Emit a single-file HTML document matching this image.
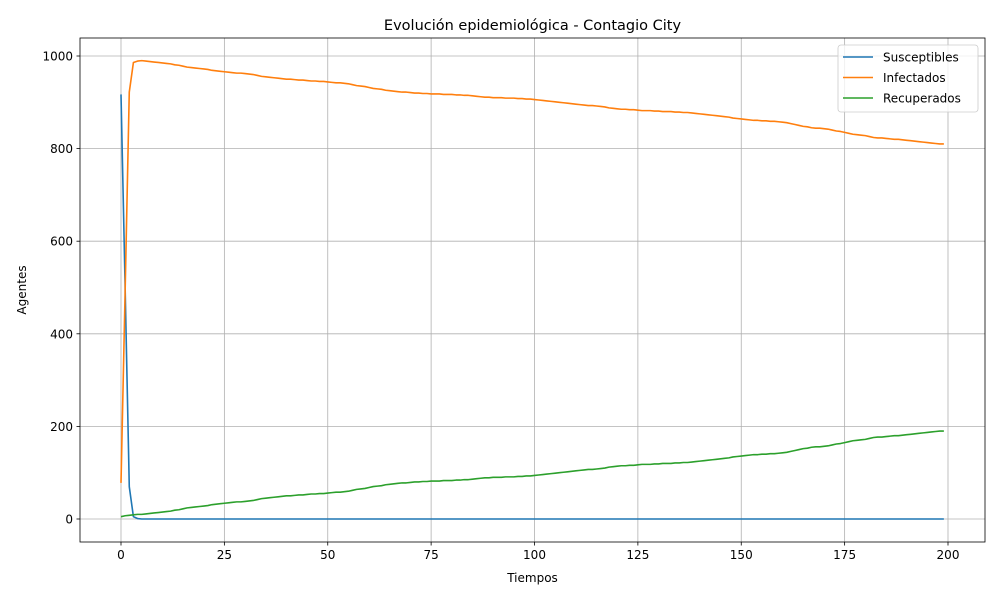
<!DOCTYPE html>
<html><head><meta charset="utf-8"><style>
body{margin:0;background:#fff;font-family:"Liberation Sans","DejaVu Sans",sans-serif}
svg text{font-family:"DejaVu Sans","Liberation Sans",sans-serif}
</style></head><body>
<svg id="c" width="1000" height="600" viewBox="0 0 1000 600" xmlns="http://www.w3.org/2000/svg"></svg>
<script>
const xTicks=[0,25,50,75,100,125,150,175,200];
const yTicks=[0,200,400,600,800,1000];
const seriesNames=["Susceptibles","Infectados","Recuperados"];
const seriesColors=["#1f77b4","#ff7f0e","#2ca02c"];
const susceptibles=[917,500,70,5,1].concat(new Array(195).fill(0));
const infectados=[78,493,922,986,989,990,989,988,987,986,985,984,983,981,980,978,976,975,974,973,972,971,969,968,967,966,965,964,963,963,962,961,960,958,956,955,954,953,952,951,950,950,949,948,948,947,946,946,945,945,944,943,942,942,941,940,938,936,935,934,932,930,929,928,926,925,924,923,922,922,921,920,920,919,919,918,918,918,917,917,917,916,916,915,915,914,913,912,911,911,910,910,910,909,909,909,908,908,907,907,906,905,904,903,902,901,900,899,898,897,896,895,894,893,893,892,891,890,888,887,886,885,885,884,884,883,882,882,882,881,881,880,880,880,879,879,878,878,877,876,875,874,873,872,871,870,869,868,866,865,864,863,862,861,861,860,860,859,859,858,857,856,854,852,850,848,847,845,844,844,843,842,840,838,837,835,833,831,830,829,828,826,824,823,823,822,821,820,820,819,818,817,816,815,814,813,812,811,810,810];
const recuperados=[5,7,8,9,10,10,11,12,13,14,15,16,17,19,20,22,24,25,26,27,28,29,31,32,33,34,35,36,37,37,38,39,40,42,44,45,46,47,48,49,50,50,51,52,52,53,54,54,55,55,56,57,58,58,59,60,62,64,65,66,68,70,71,72,74,75,76,77,78,78,79,80,80,81,81,82,82,82,83,83,83,84,84,85,85,86,87,88,89,89,90,90,90,91,91,91,92,92,93,93,94,95,96,97,98,99,100,101,102,103,104,105,106,107,107,108,109,110,112,113,114,115,115,116,116,117,118,118,118,119,119,120,120,120,121,121,122,122,123,124,125,126,127,128,129,130,131,132,134,135,136,137,138,139,139,140,140,141,141,142,143,144,146,148,150,152,153,155,156,156,157,158,160,162,163,165,167,169,170,171,172,174,176,177,177,178,179,180,180,181,182,183,184,185,186,187,188,189,190,190];
const seriesData=[susceptibles,infectados,recuperados];

const NS="http://www.w3.org/2000/svg";
const svg=document.getElementById('c');
const L=80,R=985,T=38,B=542;
const sx=v=>121+(v-0)*(948-121)/200;
const sy=v=>519-(v-0)*(519-56)/1000;
function mk(tag,attrs,parent){const e=document.createElementNS(NS,tag);for(const k in attrs)e.setAttribute(k,attrs[k]);(parent||svg).appendChild(e);return e;}

const grid=mk('g',{});


xTicks.forEach(t=>{
  const l=mk('line',{x1:sx(t),x2:sx(t),y1:T,y2:B,stroke:'#b0b0b0','stroke-width':0.8},grid);
  
  
  const tk=mk('line',{x1:sx(t),x2:sx(t),y1:B,y2:B+3.5,stroke:'#000','stroke-width':0.8});
  
  
  const tx=mk('text',{x:sx(t),y:B+17,'text-anchor':'middle','font-size':12});
  tx.textContent=t;
  
  
});
yTicks.forEach(t=>{
  const l=mk('line',{x1:L,x2:R,y1:sy(t),y2:sy(t),stroke:'#b0b0b0','stroke-width':0.8},grid);
  
  
  const tk=mk('line',{x1:L-3.5,x2:L,y1:sy(t),y2:sy(t),stroke:'#000','stroke-width':0.8});
  
  
  const tx=mk('text',{x:L-7,y:sy(t)+4.5,'text-anchor':'end','font-size':12});
  tx.textContent=t;
  
  
});

seriesData.forEach((arr,i)=>{
  const pts=arr.map((v,k)=>sx(k).toFixed(2)+','+sy(v).toFixed(2)).join(' ');
  const p=mk('polyline',{points:pts,fill:'none',stroke:seriesColors[i],'stroke-width':1.6,'stroke-linejoin':'round'});
  
  
});

const frame=mk('rect',{x:L,y:T,width:R-L,height:B-T,fill:'none',stroke:'#000','stroke-width':0.8});



const title=mk('text',{x:(L+R)/2,y:30,'text-anchor':'middle','font-size':14.5});
title.textContent='Evolución epidemiológica - Contagio City';


const xl=mk('text',{x:(L+R)/2,y:582,'text-anchor':'middle','font-size':12});
xl.textContent='Tiempos';


const yl=mk('text',{x:0,y:0,'text-anchor':'middle','font-size':12,transform:'translate(26,290) rotate(-90)'});
yl.textContent='Agentes';



const lg=mk('g',{});


mk('rect',{x:838,y:45,width:140,height:67,rx:3,fill:'#fff','fill-opacity':0.8,stroke:'#ccc','stroke-width':0.8},lg);
seriesNames.forEach((n,i)=>{
  const y=57+i*20.5;
  const ln=mk('line',{x1:843,x2:873,y1:y,y2:y,stroke:seriesColors[i],'stroke-width':1.6},lg);
  
  
  const t=mk('text',{x:883,y:y+4.5,'font-size':12},lg);
  t.textContent=n;
  
  
});
</script>
</body></html>
